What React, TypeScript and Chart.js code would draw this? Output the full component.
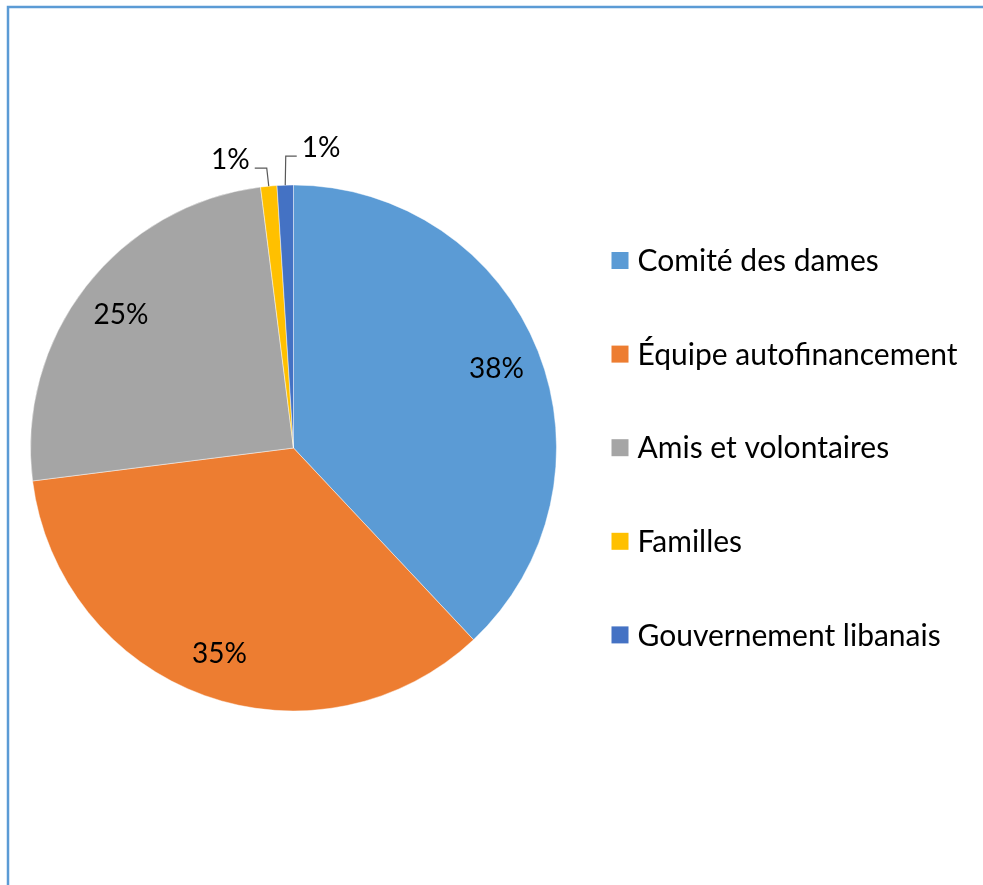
import React, { useEffect, useRef } from "react";
import { Chart, registerables } from "chart.js";

Chart.register(...registerables);

const categories: string[] = [
  "Comité des dames",
  "Équipe autofinancement",
  "Amis et volontaires",
  "Familles",
  "Gouvernement libanais",
];
const values: number[] = [38, 35, 25, 1, 1];
const percentLabels: string[] = ["38%", "35%", "25%", "1%", "1%"];
const colors: string[] = ["#5B9BD5", "#ED7D31", "#A5A5A5", "#FFC000", "#4472C4"];

const FONT = "Lato, 'Open Sans', sans-serif";
const LABEL_SIZE = 28;
const LEGEND_SIZE = 30;

const framePlugin = {
  id: "frame",
  beforeDraw(chart: any) {
    const ctx = chart.ctx;
    ctx.save();
    ctx.strokeStyle = "#5B9BD5";
    ctx.lineWidth = 2.5;
    ctx.beginPath();
    ctx.moveTo(8, chart.height);
    ctx.lineTo(8, 7);
    ctx.lineTo(chart.width, 7);
    ctx.stroke();
    ctx.restore();
  },
};

const labelPlugin = {
  id: "pieLabels",
  afterDatasetsDraw(chart: any) {
    const ctx = chart.ctx;
    const meta = chart.getDatasetMeta(0);
    ctx.save();
    ctx.font = `${LABEL_SIZE}px ${FONT}`;
    ctx.fillStyle = "#000000";
    ctx.textBaseline = "middle";
    // leader settings for the small slices: [elbow above arc, horizontal direction, horizontal length]
    const leaders: Record<number, [number, number, number]> = {
      3: [18, -1, 12],
      4: [29, 1, 11],
    };
    meta.data.forEach((arc: any, i: number) => {
      const { x, y, startAngle, endAngle, outerRadius } = arc.getProps(
        ["x", "y", "startAngle", "endAngle", "outerRadius"],
        true
      );
      const mid = (startAngle + endAngle) / 2;
      const cx = Math.cos(mid);
      const cy = Math.sin(mid);
      const text = percentLabels[i];
      if (leaders[i]) {
        const [elbow, dir, len] = leaders[i];
        const px = x + outerRadius * cx;
        const py = y + outerRadius * cy;
        const ey = py - elbow;
        const ex = px + (dir < 0 ? -2 : 0.5);
        ctx.strokeStyle = "#595959";
        ctx.lineWidth = 1.2;
        ctx.beginPath();
        ctx.moveTo(px, py);
        ctx.lineTo(ex, ey);
        ctx.lineTo(ex + dir * len, ey);
        ctx.stroke();
        ctx.textAlign = dir < 0 ? "right" : "left";
        ctx.fillText(text, ex + dir * (len + 5), ey - 8.5);
      } else {
        const r = outerRadius * 0.83;
        ctx.textAlign = "center";
        ctx.fillText(text, x + r * cx, y + r * cy + 1);
      }
    });
    ctx.restore();
  },
};

const legendPlugin = {
  id: "customLegend",
  afterDraw(chart: any) {
    const ctx = chart.ctx;
    ctx.save();
    ctx.font = `${LEGEND_SIZE}px ${FONT}`;
    ctx.textBaseline = "middle";
    ctx.textAlign = "left";
    const startY = 260.5;
    const step = 93.6;
    categories.forEach((c, i) => {
      const cy = startY + i * step;
      ctx.fillStyle = colors[i];
      ctx.fillRect(611.5, cy - 8.5, 17, 17);
      ctx.fillStyle = "#000000";
      ctx.fillText(c, 637.5, cy + 1);
    });
    ctx.restore();
  },
};

export default function App() {
  const canvasRef = useRef<HTMLCanvasElement | null>(null);

  useEffect(() => {
    if (!canvasRef.current) return;
    const chart = new Chart(canvasRef.current, {
      type: "pie",
      data: {
        labels: categories,
        datasets: [
          {
            data: values,
            backgroundColor: colors,
            borderColor: "rgba(255,255,255,0.45)",
            borderWidth: 1,
          },
        ],
      },
      options: {
        responsive: false,
        animation: false,
        layout: {
          padding: { left: 30, top: 184.5, right: 426, bottom: 173.5 },
        },
        plugins: {
          legend: { display: false },
          tooltip: { enabled: false },
        },
      },
      plugins: [framePlugin, labelPlugin, legendPlugin],
    });
    return () => chart.destroy();
  }, []);

  return (
    <div style={{ position: "fixed", left: 0, top: 0, width: 983, height: 885, background: "#ffffff" }}>
      <canvas ref={canvasRef} width={983} height={885} style={{ display: "block", width: 983, height: 885 }} />
    </div>
  );
}
